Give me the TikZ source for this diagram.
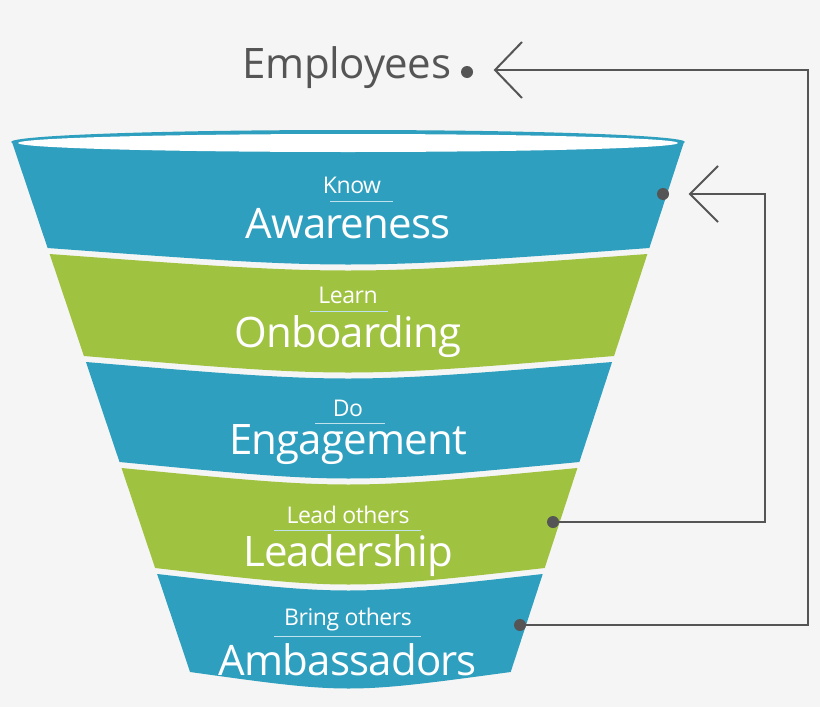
\documentclass[tikz,border=0pt]{standalone}
\usepackage{fontspec}
\setmainfont{Open Sans}
\definecolor{bl}{HTML}{2E9FBF}
\definecolor{gr}{HTML}{A0C241}
\definecolor{bg}{HTML}{F5F5F5}
\definecolor{gy}{HTML}{555555}
\begin{document}
\begin{tikzpicture}[x=1pt,y=-1pt,
 sub/.style={text=white,font=\fontsize{23}{25}\selectfont\addfontfeature{LetterSpace=-2}},
 ttl/.style={text=white,font=\fontsize{42}{45}\selectfont\addfontfeature{LetterSpace=-2}},
 dot/.style={circle,fill=gy,inner sep=0,minimum size=12pt},
 con/.style={draw=gy,line width=2pt},
 ul/.style={draw=white!70!bl,line width=1pt}]
\fill[bg] (0,0) rectangle (820,707);
\useasboundingbox (0,0) rectangle (820,707);
\def\lx#1{12+0.336*(#1-142)}
\def\rx#1{684-0.327*(#1-142)}
\newcommand\band[4]{% top bottom color topsag
 \fill[#3] ({\lx{#1}},#1) .. controls (348,#1+#4) .. ({\rx{#1}},#1)
   -- ({\rx{#2}},#2) .. controls (348,#2+22) .. ({\lx{#2}},#2) -- cycle;}
\band{142}{248}{bl}{0}
\band{254}{356}{gr}{22}
\band{362}{462}{bl}{22}
\band{468}{568}{gr}{22}
\band{574}{672}{bl}{22}
\fill[bl] (348,142) ellipse [x radius=337, y radius=12];
\fill[white] (348,143) ellipse [x radius=330, y radius=9];
% texts
\node[sub] (s1) at (352,185) {Know};
\node[ttl] (t1) at (348,224) {Awareness};
\node[sub] (s2) at (348,295) {Learn};
\node[ttl] (t2) at (348,337) {Onboarding};
\node[sub] (s3) at (348,408) {Do};
\node[ttl] (t3) at (348,445) {Engagement};
\node[sub] (s4) at (348,515) {Lead others};
\node[ttl] (t4) at (348,556) {Leadership};
\node[sub] (s5) at (348,620) {Bring others};
\node[ttl] (t5) at (348,660) {Ambassadors};
\draw[ul] (330,201) -- (393,201);
\draw[ul] (310,311) -- (388,311);
\draw[ul] (315,423) -- (385,423);
\draw[ul] (274,530) -- (421,530);
\draw[ul] (274,636) -- (421,636);
% employees
\node[text=gy,font=\fontsize{42}{46}\selectfont\addfontfeature{LetterSpace=-1}] (emp) at (347,68) {Employees};
\node[dot] (d0) at (467,72) {};
\node[dot] (d1) at (663,194) {};
\node[dot] (d4) at (553,522) {};
\node[dot] (d5) at (520,625) {};
\coordinate (a0) at (495,70);
\coordinate (a1) at (690,194);
\draw[con] (d5) -- (808,625) -- (808,70) -- (a0);
\draw[con] (d4) -- (765,522) -- (765,194) -- (a1);
\draw[con,line join=miter] (522,42) -- (a0) -- (522,98);
\draw[con,line join=miter] (718,166) -- (a1) -- (718,222);
\end{tikzpicture}
\end{document}
